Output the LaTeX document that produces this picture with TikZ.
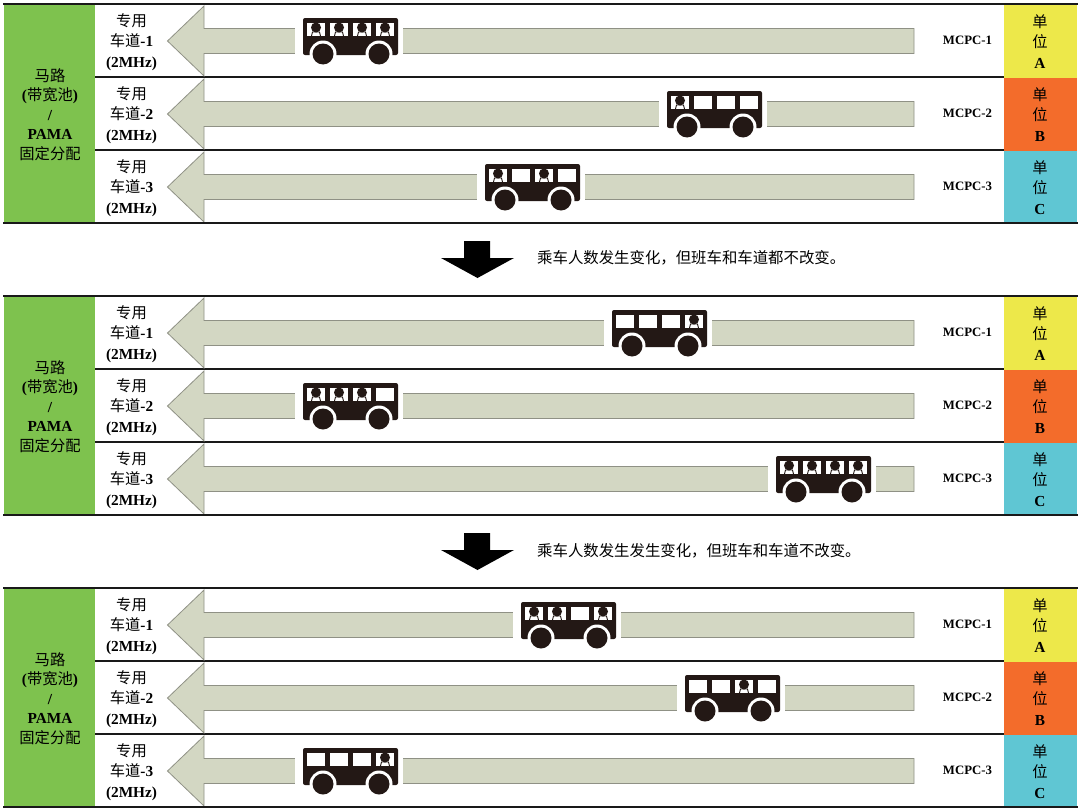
\documentclass[tikz,border=0pt]{standalone}
\usepackage{fontspec}
\setmainfont{Liberation Serif}
\newfontfamily\cjk{Noto Sans CJK SC}
\definecolor{roadgreen}{HTML}{7EC24E}
\definecolor{lanefill}{HTML}{D3D7C3}
\definecolor{laneedge}{HTML}{8F9185}
\definecolor{busblack}{HTML}{231815}
\definecolor{unitA}{HTML}{EDE84A}
\definecolor{unitB}{HTML}{F36C2B}
\definecolor{unitC}{HTML}{5FC6D3}
\tikzset{
    lanearrow/.style={fill=lanefill,draw=laneedge,line width=0.8pt},
    rule/.style={line width=2.2pt,draw=black!90},
    rowlabel/.style={align=center,font=\fontsize{15.3}{20.5}\selectfont},
    mcpclabel/.style={font=\fontsize{12.8}{14}\selectfont\bfseries},
    changelabel/.style={anchor=west,inner sep=0pt,font=\fontsize{15.4}{17}\selectfont\cjk},
    steparrow/.style={fill=black,draw=none},
    pics/bus/.style={code={
        \fill[white] (-8,-14) rectangle (100,13);
        \fill[busblack,rounded corners=2pt] (0,-23) rectangle (95,14);
        \foreach \wx in {20,76} {
            \fill[white] (\wx,13) circle (13.5);
            \fill[busblack] (\wx,13) circle (10.5);
        }
        \foreach \wx in {4,27,50,73}
            \fill[white] (\wx,-18) rectangle ++(17.5,13);
        \foreach \n in #1 {
            \fill[busblack] ({-10+23*\n},-13.5) circle (5);
            \draw[busblack,line width=0.9pt] ({-14.5+23*\n},-5) -- ({-13.5+23*\n},-9) -- ({-6.5+23*\n},-9) -- ({-5.5+23*\n},-5);
        }
    }}
}
\begin{document}
\begin{tikzpicture}[x=1pt,y=-1pt]
    \useasboundingbox (0,0) rectangle (1080,811);
    % three panels
    \foreach \p/\oy in {1/0,2/292,3/584} {
        \begin{scope}[shift={(0,\oy)}]
            \draw[rule] (95,77) -- (1004,77);
            \draw[rule] (95,150) -- (1004,150);
            \foreach \r/\ry/\uname/\ucol in {1/41/A/unitA,2/114/B/unitB,3/187/C/unitC} {
                \draw[lanearrow] (914,\ry-12.5) -- (204,\ry-12.5) -- (204,\ry-35) -- (167.5,\ry) -- (204,\ry+35) -- (204,\ry+12.5) -- (914,\ry+12.5) -- cycle;
                \fill[\ucol] (1004,\ry-36.5) rectangle (1077,\ry+36.5);
                \node[rowlabel] (lane\p-\r) at (131.5,\ry+1) {{\cjk 专用}\\{\cjk 车道}\textbf{-\r}\\\textbf{(2MHz)}};
                \node[mcpclabel] (mcpc\p-\r) at (967.5,\ry-0.5) {MCPC-\r};
                \node[rowlabel] (unit\p-\r) at (1040,\ry+0.5) {{\cjk 单}\\{\cjk 位}\\\textbf{\uname}};
            }
            \fill[roadgreen] (4,4) rectangle (95,223);
            \node[rowlabel,font=\fontsize{15.3}{19.5}\selectfont] (road\p) at (50,114.5) {{\cjk 马路}\\\textbf{(}{\cjk 带宽池}\textbf{)}\\\textbf{/}\\\textbf{PAMA}\\{\cjk 固定分配}};
            \draw[rule] (3,4) -- (1078,4);
            \draw[rule] (3,223) -- (1078,223);
        \end{scope}
    }
    % buses: panel offset, row, left edge, seats taken
    \foreach \oy/\ry/\bx/\seats in {
        0/41/303/{1,2,3,4},0/114/667/{1},0/187/485/{1,3},
        292/41/612/{4},292/114/303/{1,2,3},292/187/776/{1,2,3,4},
        584/41/521/{1,2,4},584/114/685/{3},584/187/303/{4}} {
        \pic at (\bx,\oy+\ry) {bus=\seats};
    }
    % steps between panels
    \fill[steparrow] (464,241) -- (490,241) -- (490,258) -- (514,258) -- (477.5,278) -- (441,258) -- (464,258) -- cycle;
    \fill[steparrow] (464,533) -- (490,533) -- (490,550) -- (514,550) -- (477.5,570) -- (441,550) -- (464,550) -- cycle;
    \node[changelabel] (change1) at (537,258) {乘车人数发生变化，但班车和车道都不改变。};
    \node[changelabel] (change2) at (537,551) {乘车人数发生发生变化，但班车和车道不改变。};
\end{tikzpicture}
\end{document}
